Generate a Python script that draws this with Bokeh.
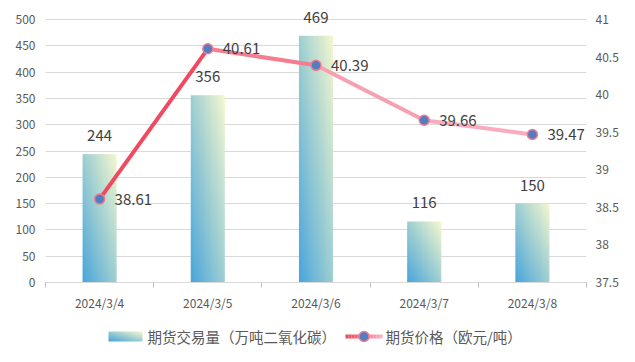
import numpy as np
from bokeh.plotting import figure
from bokeh.layouts import column
from bokeh.models import (Range1d, LinearAxis, FixedTicker, NumeralTickFormatter,
                          ColumnDataSource, LabelSet)
from bokeh.core.properties import value
from bokeh.embed import file_html
from bokeh.resources import INLINE

# ---- data ----
dates = ["2024/3/4", "2024/3/5", "2024/3/6", "2024/3/7", "2024/3/8"]
volume = [244, 356, 469, 116, 150]
price = [38.61, 40.61, 40.39, 39.66, 39.47]
volume_ticks = [0, 50, 100, 150, 200, 250, 300, 350, 400, 450, 500]
price_ticks = [37.5, 38, 38.5, 39, 39.5, 40, 40.5, 41]
vol_label = "期货交易量（万吨二氧化碳）"
price_label = "期货价格（欧元/吨）"

FONT = "Noto Sans CJK SC"
TXT = "#404040"
AX = "#595959"
GRID = "#d9d9d9"
BAR_W = 0.315
W = 635
H_MAIN = 322
H_LEG = 40
BL, BR = 45, 49
TOP = 3            # frame top (px); the 500 grid line sits at 19 px
AXIS_PX = 263      # px between the 0 and 500 grid lines
EXT = (AXIS_PX + 19 - TOP) / AXIS_PX   # headroom so labels above 500 aren't clipped

xs = [i + 0.5 for i in range(len(dates))]

v0, v1 = volume_ticks[0], volume_ticks[-1]
r0, r1 = price_ticks[0], price_ticks[-1]
p = figure(width=W, height=H_MAIN, x_range=Range1d(0, len(dates)),
           y_range=Range1d(v0, v0 + (v1 - v0) * EXT),
           output_backend="svg", toolbar_location=None,
           min_border_left=BL, min_border_right=BR, min_border_top=TOP,
           min_border_bottom=40)
p.extra_y_ranges = {"price": Range1d(r0, r0 + (r1 - r0) * EXT)}
p.outline_line_color = None

# ---- axes ----
xa = p.xaxis[0]
xa.ticker = FixedTicker(ticks=xs, minor_ticks=list(range(len(dates) + 1)))
xa.major_label_overrides = {x: d for x, d in zip(xs, dates)}
xa.major_tick_line_color = None
xa.major_tick_out = 0
xa.minor_tick_line_color = "#bfbfbf"
xa.minor_tick_out = 5
xa.minor_tick_in = 0
xa.axis_line_color = GRID
xa.major_label_standoff = 6
xa.major_label_text_font = FONT
xa.major_label_text_font_size = "12px"
xa.major_label_text_color = AX

ya = p.yaxis[0]
ya.ticker = FixedTicker(ticks=volume_ticks)
ya.axis_line_color = None
ya.major_tick_line_color = None
ya.minor_tick_line_color = None
ya.major_tick_out = 0
ya.major_label_standoff = 10
ya.major_label_text_font = FONT
ya.major_label_text_font_size = "12px"
ya.major_label_text_color = AX

ra = LinearAxis(y_range_name="price", ticker=FixedTicker(ticks=price_ticks),
                formatter=NumeralTickFormatter(format="0.[0]"))
ra.axis_line_color = None
ra.major_tick_line_color = None
ra.minor_tick_line_color = None
ra.major_tick_out = 0
ra.major_label_standoff = 9
ra.major_label_text_font = FONT
ra.major_label_text_font_size = "12px"
ra.major_label_text_color = AX
p.add_layout(ra, "right")

p.xgrid.visible = False
p.ygrid.ticker = FixedTicker(ticks=volume_ticks)
p.ygrid.grid_line_color = GRID

# ---- gradient bars (image per bar) ----
stops = np.array([[74, 166, 220], [159, 207, 210], [245, 248, 207]], dtype=float)


def grad_img(h=240, w=40):
    v = np.linspace(0, 1, h)[:, None]
    u = np.linspace(0, 1, w)[None, :]
    t = (u + v) / 2.0
    out = np.zeros((h, w, 4), dtype=np.uint8)
    for c in range(3):
        out[..., c] = np.interp(t, [0, 0.5, 1], stops[:, c]).astype(np.uint8)
    out[..., 3] = 255
    return out.view(np.uint32).reshape(h, w)


bar_src = ColumnDataSource(dict(
    image=[grad_img() for _ in volume],
    x=[x - BAR_W / 2 for x in xs],
    y=[0] * len(volume),
    dw=[BAR_W] * len(volume),
    dh=volume,
))
p.image_rgba(image="image", x="x", y="y", dw="dw", dh="dh", source=bar_src)

# ---- price line ----
seg_colors = ["#f04a60", "#f57d90", "#f7a0b2", "#f8acbe"]
seg_src = ColumnDataSource(dict(x0=xs[:-1], y0=price[:-1], x1=xs[1:], y1=price[1:],
                                c=seg_colors))
p.segment(x0="x0", y0="y0", x1="x1", y1="y1", line_color="c", line_width=4,
          line_cap="round", y_range_name="price", source=seg_src)
p.scatter(x=xs, y=price, size=10, fill_color="#4f7fc0",
          line_color="#f37a8e", line_width=1.5, y_range_name="price")

# ---- data labels ----
vsrc = ColumnDataSource(dict(x=xs, y=volume, t=[str(v) for v in volume]))
p.add_layout(LabelSet(x="x", y="y", text="t", source=vsrc, text_align="center",
                      text_baseline="bottom", y_offset=13, text_font=value(FONT),
                      text_font_size=value("15px"), text_color=TXT))
psrc = ColumnDataSource(dict(x=xs, y=price, t=[f"{v:.2f}" for v in price]))
p.add_layout(LabelSet(x="x", y="y", text="t", source=psrc, text_align="left",
                      text_baseline="middle", x_offset=15, y_range_name="price",
                      text_font=value(FONT), text_font_size=value("15px"),
                      text_color=TXT))

# ---- legend (separate strip, page-pixel x coordinates) ----
lg = figure(width=W, height=H_LEG, x_range=Range1d(BL, W - BR),
            y_range=Range1d(0, H_LEG), output_backend="svg",
            toolbar_location=None, min_border_left=BL, min_border_right=BR,
            min_border_top=0, min_border_bottom=0)
lg.axis.visible = False
lg.grid.visible = False
lg.outline_line_color = None
cy = H_LEG - 14
lg.image_rgba(image=[grad_img(20, 68)], x=108, y=cy - 5, dw=34, dh=10)
n = 12
sx = np.linspace(345, 382, n + 1)
red = np.array([240, 74, 96]); pink = np.array([248, 172, 190])
cols = ["#%02x%02x%02x" % tuple((red + (pink - red) * k / (n - 1)).astype(int))
        for k in range(n)]
lg.segment(x0=sx[:-1], y0=[cy] * n, x1=sx[1:], y1=[cy] * n, line_color=cols,
           line_width=4)
lg.scatter(x=[363.5], y=[cy], size=10, fill_color="#4f7fc0",
           line_color="#f37a8e", line_width=1.5)
lg.text(x=[147, 385], y=[cy, cy], text=[vol_label, price_label],
        text_font=value(FONT), text_font_size=value("14.5px"), text_color=AX,
        text_baseline="middle", text_align="left")

layout = column(p, lg, spacing=0)
open("out.html", "w").write(file_html(layout, INLINE))
